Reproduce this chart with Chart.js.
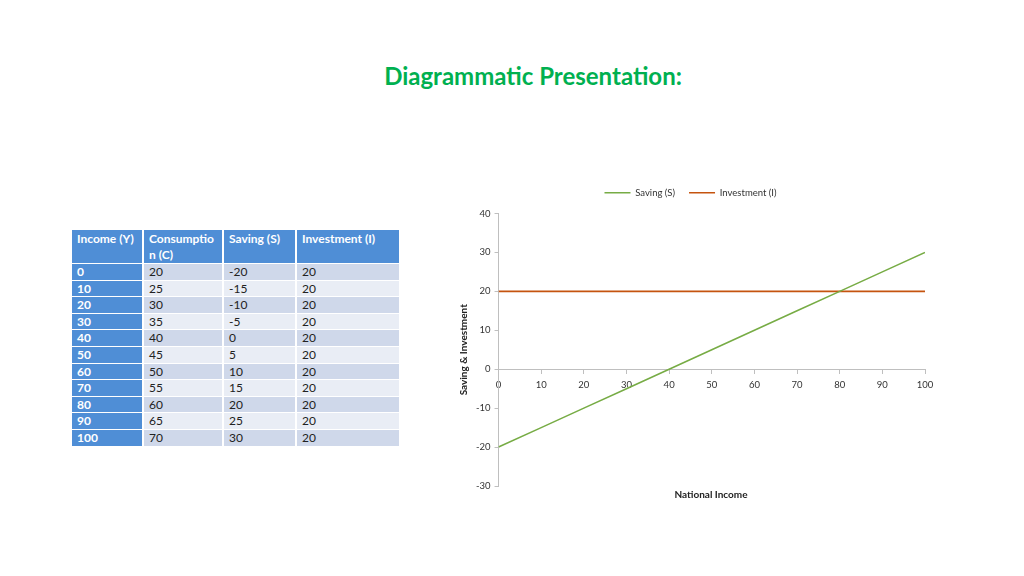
<!DOCTYPE html>
<html>
<head>
<meta charset="utf-8">
<script src="https://cdn.jsdelivr.net/npm/chart.js@4"></script>
<style>
  body { margin: 0; width: 1024px; height: 576px; background: #fff; position: relative; overflow: hidden; font-family: Lato, "Open Sans", sans-serif; }
  #title { position: absolute; left: 0; width: 1066px; top: 61px; text-align: center; color: #00B050; font-weight: bold; font-size: 24px; font-family: Lato, sans-serif; }
  #tbl { position: absolute; left: 70px; top: 229px; border-collapse: separate; border-spacing: 2px 1px; font-size: 12px; color: #222; }
  #tbl td, #tbl th { padding: 0 5px; height: 15.6px; line-height: 15.6px; text-align: left; vertical-align: top; }
  #tbl th { background: #4F8ED6; color: #fff; font-weight: bold; height: 32px; line-height: 16px; padding-top: 1px; }
  #tbl td.first { background: #4F8ED6; color: #fff; font-weight: bold; }
  #tbl tr.dark td { background: #CFD8EA; }
  #tbl tr.light td { background: #E9EDF5; }
  #tbl tr td.first { background: #4F8ED6; }
  #chartBox { position: absolute; left: 440px; top: 172px; width: 520px; height: 334px; }
  #xTitle { position: absolute; left: 611px; width: 200px; top: 488px; text-align: center; font-size: 10px; font-weight: bold; color: #222; }
</style>
</head>
<body>
<div id="title">Diagrammatic Presentation:</div>
<table id="tbl">
  <thead><tr id="head"></tr></thead>
  <tbody id="rows"></tbody>
</table>
<div id="chartBox"><canvas id="siChart" width="520" height="334"></canvas></div>
<div id="xTitle">National Income</div>
<script>
const headers = ["Income (Y)", "Consumptio n (C)", "Saving (S)", "Investment (I)"];
const colWidths = [60, 68, 61, 92];
const income = [0, 10, 20, 30, 40, 50, 60, 70, 80, 90, 100];
const consumption = [20, 25, 30, 35, 40, 45, 50, 55, 60, 65, 70];
const saving = [-20, -15, -10, -5, 0, 5, 10, 15, 20, 25, 30];
const investment = [20, 20, 20, 20, 20, 20, 20, 20, 20, 20, 20];
const yTicks = [-30, -20, -10, 0, 10, 20, 30, 40];

// table
const head = document.getElementById("head");
headers.forEach((h, i) => {
  const th = document.createElement("th");
  th.style.width = colWidths[i] + "px";
  th.innerHTML = h === "Consumptio n (C)" ? "Consumptio<br>n (C)" : h;
  head.appendChild(th);
});
const rows = document.getElementById("rows");
income.forEach((inc, i) => {
  const tr = document.createElement("tr");
  tr.className = i % 2 === 0 ? "dark" : "light";
  [inc, consumption[i], saving[i], investment[i]].forEach((v, j) => {
    const td = document.createElement("td");
    if (j === 0) td.className = "first";
    td.textContent = v;
    tr.appendChild(td);
  });
  rows.appendChild(tr);
});

// extra room under the legend
const legendGap = {
  id: "legendGap",
  beforeInit(chart) {
    const fit = chart.legend.fit;
    chart.legend.fit = function () {
      fit.bind(this)();
      this.height += 6;
    };
  }
};

// chart
new Chart(document.getElementById("siChart"), {
  type: "line",
  data: {
    datasets: [
      {
        label: "Saving (S)",
        data: income.map((x, i) => ({ x, y: saving[i] })),
        borderColor: "#77AC45",
        borderWidth: 1.6,
        pointRadius: 0,
        fill: false
      },
      {
        label: "Investment (I)",
        data: income.map((x, i) => ({ x, y: investment[i] })),
        borderColor: "#C5540F",
        borderWidth: 1.6,
        pointRadius: 0,
        fill: false
      }
    ]
  },
  plugins: [legendGap],
  options: {
    responsive: false,
    animation: false,
    maintainAspectRatio: false,
    layout: { padding: { left: 16, right: 35, top: 2, bottom: 20 } },
    plugins: {
      tooltip: { enabled: false },
      legend: {
        position: "top",
        labels: {
          color: "#333",
          font: { family: "Lato", size: 9.5 },
          usePointStyle: true,
          pointStyle: "line",
          pointStyleWidth: 26,
          boxHeight: 2,
          padding: 14
        }
      }
    },
    scales: {
      x: {
        type: "linear",
        position: { y: 0 },
        min: 0,
        max: 100,
        ticks: { stepSize: 10, maxRotation: 0, minRotation: 0, autoSkip: false, color: "#333", font: { family: "Lato", size: 9.5 }, padding: 6 },
        grid: { drawOnChartArea: false, color: "#BFBFBF", tickLength: 4 },
        border: { color: "#BFBFBF" }
      },
      y: {
        min: -30,
        max: 40,
        afterBuildTicks: axis => { axis.ticks = yTicks.map(v => ({ value: v })); },
        ticks: { color: "#333", font: { family: "Lato", size: 9.5 }, padding: 4 },
        grid: { drawOnChartArea: false, color: "#BFBFBF", tickLength: 4 },
        border: { color: "#BFBFBF" },
        title: { display: true, text: "Saving & Investment", color: "#222", font: { family: "Lato", size: 10, weight: "bold" }, padding: 2 }
      }
    }
  }
});
</script>
</body>
</html>
